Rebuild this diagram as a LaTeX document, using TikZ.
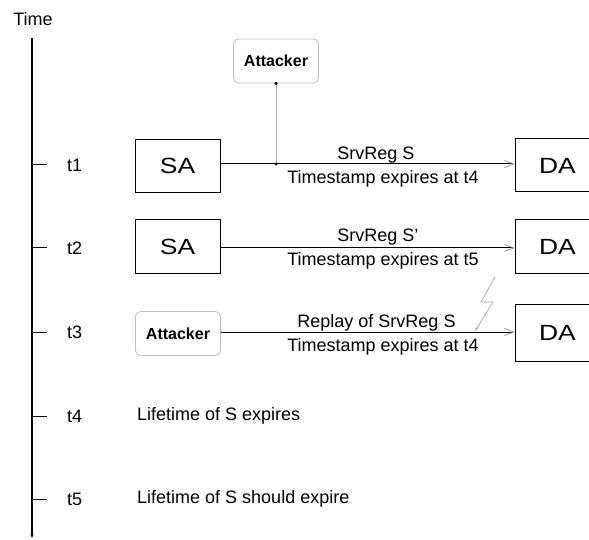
\documentclass[tikz,border=0pt]{standalone}
\usepackage{fontspec}
\usepackage{graphicx}
\setmainfont{Liberation Sans}
\usetikzlibrary{arrows.meta}
\begin{document}
\begin{tikzpicture}[x=1pt,y=-1pt,
  lbl/.style={font=\fontsize{18}{20}\selectfont, inner sep=0pt},
  agent/.style={draw, line width=1pt, minimum width=85pt, minimum height=53pt,
    inner sep=0pt, font=\fontsize{22}{26}\selectfont},
  attacker/.style={draw=black!25, line width=0.8pt, rounded corners=5pt,
    minimum width=85pt, minimum height=44pt, inner sep=0pt,
    font=\fontsize{16}{18}\selectfont\bfseries},
  msg/.style={line width=1pt,
    -{Straight Barb[length=9pt, width=7pt, color=black!45, line width=0.7pt]}},
  axis/.style={line width=1.2pt},
  tickline/.style={line width=1pt},
  tap/.style={circle, fill, inner sep=0pt, minimum size=3.5pt},
  zap/.style={black!35, line width=0.7pt, -{Stealth[length=4pt, width=3pt]}}
]
\useasboundingbox (0,0) rectangle (589,540);
\begin{scope}
\clip (0,0) rectangle (589,540);

% time axis
\node[lbl] (time) at (33,19) {Time};
\coordinate (axtop) at (32,38);
\coordinate (axbot) at (32,538);
\draw[axis, -{Stealth[length=4pt, width=3pt]}] (axtop) -- (axbot);

\foreach \n/\y in {1/165, 2/248, 3/332, 4/416, 5/499} {
  \coordinate (tk\n) at (32,\y);
  \coordinate (te\n) at (47,\y);
  \draw[tickline] (tk\n) -- (te\n);
  \node[lbl, anchor=west] (tl\n) at (67,\y) {t\n};
}

% t1: SA sends the registration, observed by the attacker
\node[agent] (sa1) at (177.5,166) {\scalebox{1.2}[1]{SA}};
\node[agent] (da1) at (557.5,165.5) {\scalebox{1.2}[1]{DA}};
\draw[msg] (sa1.east |- 0,164) -- (da1.west |- 0,164);
\node[lbl] (m1a) at (376,155) {SrvReg S};
\node[lbl] (m1b) at (383,179) {Timestamp expires at t4};

\node[attacker] (att1) at (276,61) {Attacker};
\coordinate (tap1) at (276,164);
\draw[black!30, line width=0.7pt] (att1.south) -- (tap1);
\node[tap] at (att1.south) {};
\node[tap] at (tap1) {};

% t2: SA refreshes with S'
\node[agent] (sa2) at (177.5,246.5) {\scalebox{1.2}[1]{SA}};
\node[agent] (da2) at (557.5,246.5) {\scalebox{1.2}[1]{DA}};
\draw[msg] (sa2.east |- 0,248) -- (da2.west |- 0,248);
\node[lbl] (m2a) at (378,237) {SrvReg S'};
\node[lbl] (m2b) at (383,261) {Timestamp expires at t5};

% t3: replayed registration
\node[attacker] (att3) at (178,333.5) {Attacker};
\node[agent, minimum height=57pt] (da3) at (557.5,332.5) {\scalebox{1.2}[1]{DA}};
\draw[msg] (att3.east |- 0,332) -- (da3.west |- 0,332);
\node[lbl] (m3a) at (376.5,323) {Replay of SrvReg S};
\node[lbl] (m3b) at (383,347) {Timestamp expires at t4};
\draw[zap] (495,277) -- (481,302) -- (493,302) -- (475,331);

% t4, t5
\node[lbl, anchor=west] (life4) at (137,416) {Lifetime of S expires};
\node[lbl, anchor=west] (life5) at (137,499) {Lifetime of S should expire};
\end{scope}
\end{tikzpicture}
\end{document}
